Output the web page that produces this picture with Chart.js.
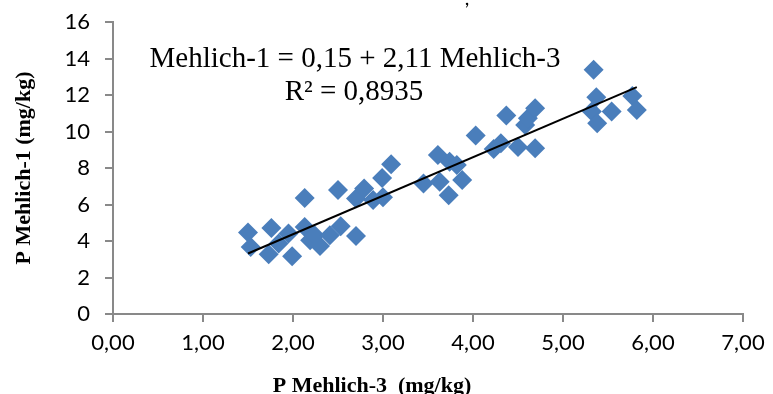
<!DOCTYPE html>
<html>
<head>
<meta charset="utf-8">
<script src="https://cdn.jsdelivr.net/npm/chart.js@4.4.1/dist/chart.umd.min.js"></script>
<style>
  html, body { margin: 0; padding: 0; background: #ffffff; }
  #wrap { width: 773px; height: 394px; position: relative; }
</style>
</head>
<body>
<div id="wrap"><canvas id="c" width="773" height="394"></canvas></div>
<script>
// ---- data ----
const xValues = [1.50,1.76,1.53,1.73,1.99,1.95,1.84,2.13,2.13,2.19,2.24,2.30,2.41,2.50,2.53,2.70,2.70,2.79,2.89,3.00,2.99,3.09,3.45,3.61,3.63,3.74,3.82,3.73,3.88,4.03,4.23,4.31,4.37,4.50,4.58,4.61,4.69,4.69,5.34,5.37,5.32,5.38,5.54,5.77,5.82];
const yValues = [4.46,4.71,3.67,3.27,3.16,4.41,3.86,6.36,4.77,4.04,4.31,3.73,4.31,6.79,4.81,6.33,4.27,6.88,6.24,6.40,7.45,8.21,7.15,8.71,7.24,8.34,8.16,6.51,7.34,9.78,9.04,9.35,10.88,9.15,10.36,10.73,11.27,9.08,13.38,11.87,11.09,10.45,11.09,11.95,11.18];
const trendIntercept = 0.15;
const trendSlope = 2.11;
const xTickValues = [0,1,2,3,4,5,6,7];
const yTickValues = [0,2,4,6,8,10,12,14,16];
const equationText = "Mehlich-1 = 0,15 + 2,11 Mehlich-3";
const r2Text = "R\u00B2 = 0,8935";
const xTitle = "P Mehlich-3  (mg/kg)";
const yTitle = "P Mehlich-1 (mg/kg)";
const topFragment = ",";

// ---- build datasets ----
const points = xValues.map((x, i) => ({ x: x, y: yValues[i] }));
const xMin = Math.min(...xValues), xMax = Math.max(...xValues);
const trend = [xMin, xMax].map(x => ({ x: x, y: trendIntercept + trendSlope * x }));

const AXIS = '#898989';
const TICK_FONT = { family: 'Lato', size: 22 };

const textPlugin = {
  id: 'texts',
  afterDraw(chart) {
    const ctx = chart.ctx;
    ctx.save();
    ctx.fillStyle = '#000';
    ctx.textAlign = 'center';
    ctx.textBaseline = 'alphabetic';
    ctx.font = '29px "Liberation Serif"';
    ctx.fillText(equationText, 355, 67);
    ctx.fillText(r2Text, 354, 100);
    ctx.font = 'bold 22px "Liberation Serif"';
    ctx.fillText(xTitle, 372, 392);
    ctx.font = '20px Lato';
    ctx.fillText(topFragment, 467, 5);
    ctx.restore();
  }
};

new Chart(document.getElementById('c'), {
  type: 'scatter',
  data: {
    datasets: [
      {
        type: 'line',
        data: trend,
        borderColor: '#000000',
        borderWidth: 2,
        pointRadius: 0,
        fill: false,
        order: 0
      },
      {
        data: points,
        pointStyle: 'rectRot',
        pointRadius: 10,
        pointHoverRadius: 10,
        backgroundColor: '#4A7EBB',
        borderColor: '#4A7EBB',
        borderWidth: 0,
        order: 1
      }
    ]
  },
  options: {
    responsive: false,
    animation: false,
    devicePixelRatio: 1,
    layout: { padding: { left: 0, right: 30, top: 22, bottom: 0 } },
    plugins: { legend: { display: false }, tooltip: { enabled: false } },
    scales: {
      x: {
        type: 'linear',
        min: 0, max: 7,
        afterBuildTicks(scale) { scale.ticks = xTickValues.map(v => ({ value: v })); },
        afterFit(scale) { scale.height = 80; scale.paddingLeft = 0; scale.paddingRight = 0; },
        ticks: {
          font: TICK_FONT, color: '#000', padding: 8,
          callback: v => v.toFixed(2).replace('.', ',')
        },
        grid: { display: true, drawOnChartArea: false, drawTicks: true, tickLength: 8, color: AXIS, lineWidth: 2 },
        border: { display: true, color: AXIS, width: 2 }
      },
      y: {
        type: 'linear',
        min: 0, max: 16,
        afterBuildTicks(scale) { scale.ticks = yTickValues.map(v => ({ value: v })); },
        afterFit(scale) { scale.width = 113; scale.paddingTop = 0; scale.paddingBottom = 0; },
        ticks: { font: TICK_FONT, color: '#000', padding: 15, callback: v => String(v) },
        grid: { display: true, drawOnChartArea: false, drawTicks: true, tickLength: 8, color: AXIS, lineWidth: 2 },
        border: { display: true, color: AXIS, width: 2 },
        title: {
          display: true, text: yTitle, color: '#000',
          font: { family: 'Liberation Serif', size: 22, weight: 'bold' },
          padding: { top: 11, bottom: 0 }
        }
      }
    }
  },
  plugins: [textPlugin]
});
</script>
</body>
</html>
